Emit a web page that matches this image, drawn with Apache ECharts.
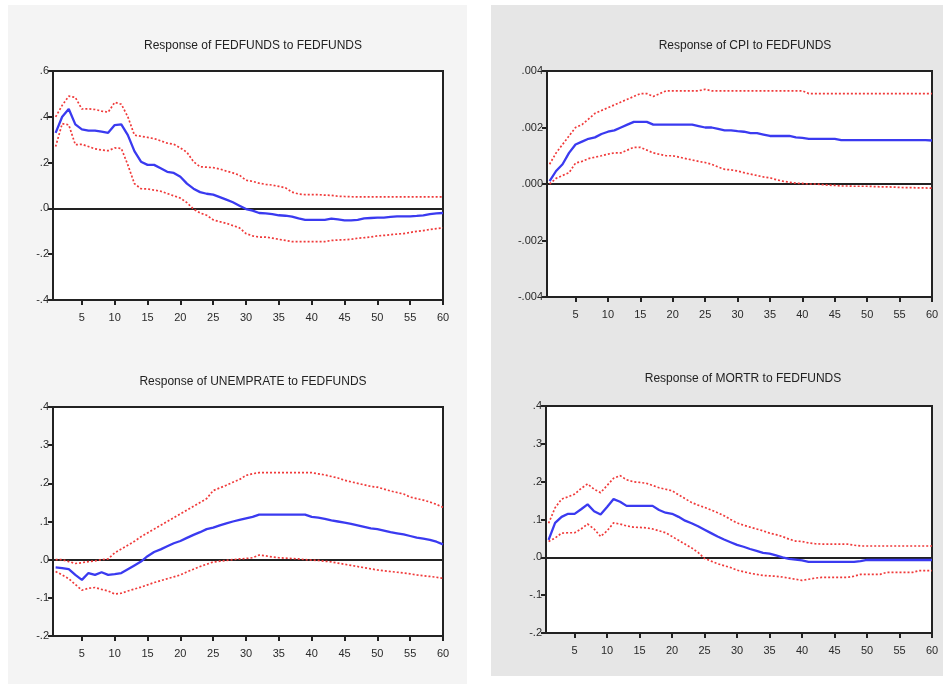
<!DOCTYPE html>
<html>
<head>
<meta charset="utf-8">
<script src="https://cdn.jsdelivr.net/npm/echarts@6/dist/echarts.min.js"></script>
<style>
  html, body { margin: 0; padding: 0; background: #fff; }
  #chart { width: 943px; height: 684px; }
</style>
</head>
<body>
<div id="chart"></div>
<script>
// periods 1..60
var periods = [];
for (var p = 1; p <= 60; p++) periods.push(p);
var xTicks = [5, 10, 15, 20, 25, 30, 35, 40, 45, 50, 55, 60];

// Response of FEDFUNDS to FEDFUNDS
var fedMid = [0.33, 0.40, 0.434, 0.367, 0.345, 0.34, 0.34, 0.335, 0.33, 0.364,
  0.367, 0.32, 0.25, 0.204, 0.19, 0.19, 0.175, 0.16, 0.155, 0.138,
  0.108, 0.086, 0.071, 0.064, 0.06, 0.049, 0.038, 0.027, 0.012, -0.003,
  -0.01, -0.02, -0.022, -0.025, -0.03, -0.032, -0.036, -0.044, -0.05, -0.05,
  -0.05, -0.05, -0.045, -0.048, -0.052, -0.052, -0.05, -0.044, -0.042, -0.04,
  -0.04, -0.037, -0.035, -0.035, -0.035, -0.033, -0.03, -0.025, -0.022, -0.02];
var fedUp = [0.40, 0.45, 0.49, 0.485, 0.434, 0.435, 0.432, 0.425, 0.42, 0.463,
  0.455, 0.40, 0.32, 0.315, 0.31, 0.305, 0.295, 0.285, 0.28, 0.264,
  0.245, 0.204, 0.182, 0.18, 0.178, 0.172, 0.163, 0.155, 0.145, 0.123,
  0.118, 0.11, 0.105, 0.102, 0.096, 0.09, 0.071, 0.063, 0.06, 0.06,
  0.06, 0.058, 0.057, 0.053, 0.052, 0.051, 0.05, 0.05, 0.05, 0.05,
  0.05, 0.05, 0.05, 0.05, 0.05, 0.05, 0.05, 0.05, 0.05, 0.05];
var fedLow = [0.27, 0.37, 0.365, 0.278, 0.28, 0.27, 0.26, 0.255, 0.252, 0.264,
  0.262, 0.19, 0.108, 0.086, 0.085, 0.08, 0.075, 0.065, 0.055, 0.045,
  0.025, -0.003, -0.02, -0.03, -0.05, -0.058, -0.065, -0.075, -0.085, -0.11,
  -0.12, -0.125, -0.125, -0.13, -0.135, -0.14, -0.145, -0.145, -0.145, -0.145,
  -0.145, -0.145, -0.14, -0.138, -0.137, -0.135, -0.13, -0.128, -0.125, -0.12,
  -0.118, -0.115, -0.112, -0.11, -0.105, -0.1, -0.097, -0.092, -0.088, -0.085];

// Response of CPI to FEDFUNDS
var cpiMid = [0.0001, 0.00046, 0.0007, 0.0011, 0.0014, 0.0015, 0.0016, 0.00165, 0.00177, 0.00185,
  0.0019, 0.002, 0.0021, 0.0022, 0.0022, 0.0022, 0.0021, 0.0021, 0.0021, 0.0021,
  0.0021, 0.0021, 0.0021, 0.00205, 0.002, 0.002, 0.00195, 0.0019, 0.0019, 0.00187,
  0.00185, 0.0018, 0.0018, 0.00175, 0.0017, 0.0017, 0.0017, 0.0017, 0.00165, 0.00163,
  0.0016, 0.0016, 0.0016, 0.0016, 0.0016, 0.00155, 0.00155, 0.00155, 0.00155, 0.00155,
  0.00155, 0.00155, 0.00155, 0.00155, 0.00155, 0.00155, 0.00155, 0.00155, 0.00155, 0.00154];
var cpiUp = [0.0007, 0.0011, 0.0014, 0.0017, 0.002, 0.0021, 0.0023, 0.0025, 0.0026, 0.0027,
  0.0028, 0.0029, 0.003, 0.0031, 0.0032, 0.0032, 0.0031, 0.0032, 0.0033, 0.0033,
  0.0033, 0.0033, 0.0033, 0.0033, 0.00335, 0.0033, 0.0033, 0.0033, 0.0033, 0.0033,
  0.0033, 0.0033, 0.0033, 0.0033, 0.0033, 0.0033, 0.0033, 0.0033, 0.0033, 0.0033,
  0.0032, 0.0032, 0.0032, 0.0032, 0.0032, 0.0032, 0.0032, 0.0032, 0.0032, 0.0032,
  0.0032, 0.0032, 0.0032, 0.0032, 0.0032, 0.0032, 0.0032, 0.0032, 0.0032, 0.0032];
var cpiLow = [0.0, 0.0002, 0.0003, 0.0004, 0.00074, 0.0008, 0.0009, 0.00095, 0.001, 0.00106,
  0.0011, 0.0011, 0.0012, 0.0013, 0.0013, 0.0012, 0.0011, 0.00105, 0.001, 0.001,
  0.00095, 0.0009, 0.00085, 0.0008, 0.00076, 0.0007, 0.0006, 0.00052, 0.0005, 0.00046,
  0.0004, 0.00035, 0.0003, 0.00025, 0.00022, 0.00015, 0.0001, 0.00006, 0.00003, 0.00002,
  0.0, 0.0, -0.00002, -0.00004, -0.00005, -0.00007, -0.00007, -0.00008, -0.00008, -0.00008,
  -0.00009, -0.0001, -0.0001, -0.00011, -0.00012, -0.00013, -0.00013, -0.00014, -0.00014, -0.00015];

// Response of UNEMPRATE to FEDFUNDS
var unMid = [-0.02, -0.022, -0.025, -0.04, -0.053, -0.035, -0.04, -0.033, -0.04, -0.038,
  -0.035, -0.025, -0.015, -0.005, 0.009, 0.02, 0.027, 0.035, 0.043, 0.049,
  0.057, 0.065, 0.072, 0.08, 0.084, 0.09, 0.095, 0.1, 0.104, 0.108,
  0.112, 0.118, 0.118, 0.118, 0.118, 0.118, 0.118, 0.118, 0.118, 0.112,
  0.11, 0.107, 0.103, 0.1, 0.097, 0.094, 0.09, 0.086, 0.082, 0.08,
  0.076, 0.072, 0.069, 0.066, 0.062, 0.058, 0.055, 0.052, 0.047, 0.04];
var unUp = [0.0, 0.0, -0.005, -0.01, -0.008, -0.005, -0.003, 0.0, 0.002, 0.018,
  0.028, 0.038, 0.048, 0.06, 0.07, 0.08, 0.09, 0.1, 0.11, 0.12,
  0.13, 0.14, 0.15, 0.16, 0.181, 0.188, 0.195, 0.203, 0.21, 0.221,
  0.225, 0.228, 0.228, 0.228, 0.228, 0.228, 0.228, 0.228, 0.228, 0.228,
  0.225, 0.222, 0.218, 0.214, 0.208, 0.204, 0.2, 0.196, 0.192, 0.19,
  0.185, 0.18, 0.176, 0.172, 0.164, 0.16, 0.156, 0.151, 0.145, 0.137];
var unLow = [-0.031, -0.04, -0.05, -0.065, -0.08, -0.075, -0.073, -0.078, -0.082, -0.09,
  -0.088, -0.082, -0.077, -0.072, -0.066, -0.06, -0.055, -0.05, -0.045, -0.04,
  -0.032, -0.025, -0.018, -0.012, -0.006, -0.004, -0.002, 0.0, 0.002, 0.003,
  0.005, 0.012, 0.01, 0.007, 0.005, 0.004, 0.003, 0.002, 0.0, -0.001,
  -0.002, -0.004, -0.006, -0.009, -0.012, -0.015, -0.018, -0.021, -0.024, -0.027,
  -0.029, -0.031, -0.033, -0.035, -0.037, -0.04, -0.042, -0.044, -0.046, -0.049];

// Response of MORTR to FEDFUNDS
var morMid = [0.046, 0.091, 0.107, 0.115, 0.115, 0.127, 0.14, 0.122, 0.113, 0.133,
  0.154, 0.147, 0.136, 0.136, 0.136, 0.136, 0.136, 0.125, 0.118, 0.115,
  0.107, 0.097, 0.09, 0.082, 0.073, 0.064, 0.055, 0.047, 0.04, 0.033,
  0.028, 0.022, 0.017, 0.012, 0.01, 0.005, 0.0, -0.004, -0.006, -0.008,
  -0.012, -0.012, -0.012, -0.012, -0.012, -0.012, -0.012, -0.012, -0.01, -0.007,
  -0.007, -0.007, -0.007, -0.007, -0.007, -0.007, -0.007, -0.007, -0.007, -0.007];
var morUp = [0.09, 0.131, 0.154, 0.16, 0.167, 0.182, 0.194, 0.18, 0.171, 0.19,
  0.209, 0.216, 0.205, 0.2, 0.198, 0.196, 0.19, 0.184, 0.18, 0.176,
  0.165, 0.155, 0.145, 0.138, 0.132, 0.125, 0.118, 0.11, 0.1, 0.091,
  0.085, 0.08, 0.075, 0.07, 0.064, 0.06, 0.055, 0.048, 0.043, 0.042,
  0.038, 0.036, 0.035, 0.035, 0.035, 0.035, 0.035, 0.032, 0.03, 0.03,
  0.03, 0.03, 0.03, 0.03, 0.03, 0.03, 0.03, 0.03, 0.03, 0.03];
var morLow = [0.042, 0.051, 0.064, 0.065, 0.065, 0.075, 0.088, 0.075, 0.055, 0.07,
  0.091, 0.088, 0.083, 0.08, 0.079, 0.078, 0.075, 0.07, 0.065, 0.055,
  0.045, 0.035, 0.025, 0.013, -0.003, -0.01, -0.017, -0.022, -0.027, -0.034,
  -0.038, -0.042, -0.045, -0.048, -0.049, -0.05, -0.052, -0.055, -0.058, -0.061,
  -0.058, -0.055, -0.053, -0.053, -0.053, -0.053, -0.053, -0.05, -0.045, -0.045,
  -0.045, -0.045, -0.04, -0.04, -0.04, -0.04, -0.04, -0.035, -0.035, -0.035];

var panels = [
  { title: 'Response of FEDFUNDS to FEDFUNDS', mid: fedMid, up: fedUp, low: fedLow,
    min: -0.4, max: 0.6, step: 0.2, dec: 1, box: { left: 53, top: 71, width: 390, height: 229 }, tx: 248, ty: 42 },
  { title: 'Response of CPI to FEDFUNDS', mid: cpiMid, up: cpiUp, low: cpiLow,
    min: -0.004, max: 0.004, step: 0.002, dec: 3, box: { left: 547, top: 71, width: 385, height: 226 }, tx: 740, ty: 42 },
  { title: 'Response of UNEMPRATE to FEDFUNDS', mid: unMid, up: unUp, low: unLow,
    min: -0.2, max: 0.4, step: 0.1, dec: 1, box: { left: 53, top: 407, width: 390, height: 229 }, tx: 248, ty: 378 },
  { title: 'Response of MORTR to FEDFUNDS', mid: morMid, up: morUp, low: morLow,
    min: -0.2, max: 0.4, step: 0.1, dec: 1, box: { left: 546, top: 406, width: 386, height: 227 }, tx: 738, ty: 375 }
];

function pairs(vals) {
  return periods.map(function (x, i) { return [x, vals[i]]; });
}
function fmt(dec) {
  return function (v) {
    var s = Math.abs(v) < 1e-9 ? (0).toFixed(dec) : v.toFixed(dec);
    return s.replace(/^(-?)0\./, '$1.');
  };
}

var labelFont = { color: '#2a2a2a', fontSize: 11, fontFamily: 'Liberation Sans, Arial, sans-serif' };
var grids = [], xAxes = [], yAxes = [], series = [], titles = [];

panels.forEach(function (pn, k) {
  grids.push(Object.assign({
    show: true, backgroundColor: '#fff', borderColor: '#222', borderWidth: 2
  }, pn.box));
  titles.push({
    text: pn.title, left: pn.tx, top: pn.ty - 7, textAlign: 'center',
    textStyle: { fontSize: 12, fontWeight: 'normal', color: '#222', fontFamily: 'Liberation Sans, Arial, sans-serif' }
  });
  xAxes.push({
    type: 'value', gridIndex: k, min: 0.6, max: 60,
    axisLine: { onZero: false, lineStyle: { color: '#222', width: 2 } },
    axisTick: { show: true, customValues: xTicks, length: 5, lineStyle: { color: '#222', width: 2 } },
    axisLabel: Object.assign({ customValues: xTicks, margin: 12 }, labelFont),
    splitLine: { show: false }
  });
  yAxes.push({
    type: 'value', gridIndex: k, min: pn.min, max: pn.max, interval: pn.step,
    axisLine: { show: true, lineStyle: { color: '#222', width: 2 } },
    axisTick: { show: true, length: 5, lineStyle: { color: '#222', width: 2 } },
    axisLabel: Object.assign({ formatter: fmt(pn.dec), margin: 4 }, labelFont),
    splitLine: { show: false }
  });
  var dotted = { color: '#f03a3a', width: 1.7, type: [2, 2] };
  series.push({
    type: 'line', xAxisIndex: k, yAxisIndex: k, data: pairs(pn.up), showSymbol: false,
    lineStyle: dotted, z: 3, silent: true
  });
  series.push({
    type: 'line', xAxisIndex: k, yAxisIndex: k, data: pairs(pn.low), showSymbol: false,
    lineStyle: dotted, z: 3, silent: true
  });
  series.push({
    type: 'line', xAxisIndex: k, yAxisIndex: k, data: pairs(pn.mid), showSymbol: false,
    lineStyle: { color: '#3a3af0', width: 2.3 }, z: 4, silent: true,
    markLine: {
      silent: true, symbol: 'none', label: { show: false },
      lineStyle: { color: '#222', width: 2, type: 'solid' },
      data: [{ yAxis: 0 }], z: 2
    }
  });
});

var chart = echarts.init(document.getElementById('chart'), null, { renderer: 'canvas' });
chart.setOption({
  backgroundColor: '#fff',
  animation: false,
  graphic: [
    { type: 'rect', shape: { x: 8, y: 5, width: 459, height: 679 }, style: { fill: '#f4f4f4' }, z: -10 },
    { type: 'rect', shape: { x: 491, y: 5, width: 452, height: 671 }, style: { fill: '#e6e6e6' }, z: -10 }
  ],
  title: titles,
  grid: grids,
  xAxis: xAxes,
  yAxis: yAxes,
  series: series
});
</script>
</body>
</html>
